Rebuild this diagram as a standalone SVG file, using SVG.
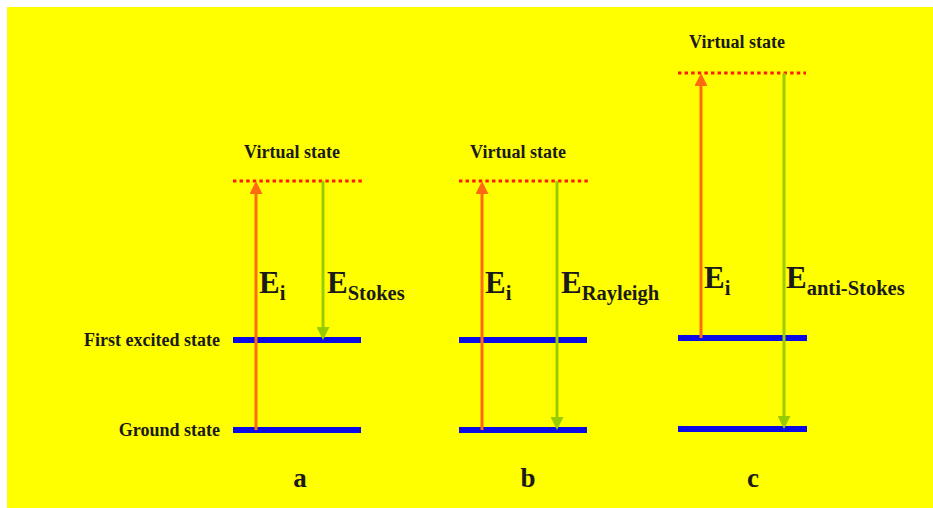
<svg xmlns="http://www.w3.org/2000/svg" width="933" height="508" viewBox="0 0 933 508">
<style>
.lvl{stroke:#0a0ae6;stroke-width:6;fill:none}
.virt{stroke:#ff1a00;stroke-width:3;stroke-dasharray:3.4 3.2;fill:none}
.txt{font-family:"Liberation Serif","Times New Roman",serif;font-weight:bold;fill:#1a1a1a}
.lab{font-size:18px}
.big{font-size:31px}
.sub{font-size:20.5px}
.pan{font-size:27px}
.up{stroke:#ff6a10;stroke-width:3;fill:none}
.down{stroke:#99cc00;stroke-width:3;fill:none}
</style>
<defs>
<marker id="ahO" viewBox="0 0 13 13" refX="5" refY="6.5" markerWidth="13" markerHeight="13" markerUnits="userSpaceOnUse" orient="auto">
<path d="M0,0 L13,6.5 L0,13 z" fill="#ff6a10"/>
</marker>
<marker id="ahG" viewBox="0 0 13 13" refX="5" refY="6.5" markerWidth="13" markerHeight="13" markerUnits="userSpaceOnUse" orient="auto">
<path d="M0,0 L13,6.5 L0,13 z" fill="#99cc00"/>
</marker>
</defs>
<rect x="0" y="0" width="933" height="508" fill="#ffffff"/>
<rect x="7" y="7" width="926" height="501" fill="#ffff00"/>

<g id="labels-left">
<text class="txt lab" x="220" y="346" text-anchor="end">First excited state</text>
<text class="txt lab" x="220" y="436" text-anchor="end">Ground state</text>
</g>

<g id="panel-a">
<g id="a-virtual"><line class="virt" x1="233" y1="181" x2="362" y2="181"/><text class="txt lab" x="292" y="158" text-anchor="middle">Virtual state</text></g>
<g id="a-excited"><line class="lvl" x1="233" y1="340" x2="361" y2="340"/></g>
<g id="a-ground"><line class="lvl" x1="233" y1="430" x2="361" y2="430"/></g>
<text class="txt pan" x="300" y="487" text-anchor="middle">a</text>
</g>

<g id="panel-b">
<g id="b-virtual"><line class="virt" x1="459" y1="181" x2="588" y2="181"/><text class="txt lab" x="518" y="158" text-anchor="middle">Virtual state</text></g>
<g id="b-excited"><line class="lvl" x1="459" y1="340" x2="587" y2="340"/></g>
<g id="b-ground"><line class="lvl" x1="459" y1="430" x2="587" y2="430"/></g>
<text class="txt pan" x="528" y="487" text-anchor="middle">b</text>
</g>

<g id="panel-c">
<g id="c-virtual"><line class="virt" x1="678" y1="73" x2="806" y2="73"/><text class="txt lab" x="737" y="48" text-anchor="middle">Virtual state</text></g>
<g id="c-excited"><line class="lvl" x1="678" y1="338" x2="807" y2="338"/></g>
<g id="c-ground"><line class="lvl" x1="678" y1="429" x2="807" y2="429"/></g>
<text class="txt pan" x="753" y="487" text-anchor="middle">c</text>
</g>

<g id="connectors">
<line class="up" x1="256" y1="430" x2="256" y2="189" marker-end="url(#ahO)"/>
<line class="down" x1="323" y1="181" x2="323" y2="332" marker-end="url(#ahG)"/>
<line class="up" x1="482" y1="430" x2="482" y2="189" marker-end="url(#ahO)"/>
<line class="down" x1="557" y1="181" x2="557" y2="422" marker-end="url(#ahG)"/>
<line class="up" x1="701" y1="338" x2="701" y2="81" marker-end="url(#ahO)"/>
<line class="down" x1="784" y1="73" x2="784" y2="421" marker-end="url(#ahG)"/>
</g>

<g id="energy-labels">
<text class="txt" x="259" y="293"><tspan class="big">E</tspan><tspan class="sub" dy="7">i</tspan></text>
<text class="txt" x="327" y="293"><tspan class="big">E</tspan><tspan class="sub" dy="7">Stokes</tspan></text>
<text class="txt" x="485" y="293"><tspan class="big">E</tspan><tspan class="sub" dy="7">i</tspan></text>
<text class="txt" x="561" y="293"><tspan class="big">E</tspan><tspan class="sub" dy="7">Rayleigh</tspan></text>
<text class="txt" x="704" y="288"><tspan class="big">E</tspan><tspan class="sub" dy="7">i</tspan></text>
<text class="txt" x="786" y="288"><tspan class="big">E</tspan><tspan class="sub" dy="7">anti-Stokes</tspan></text>
</g>
</svg>
